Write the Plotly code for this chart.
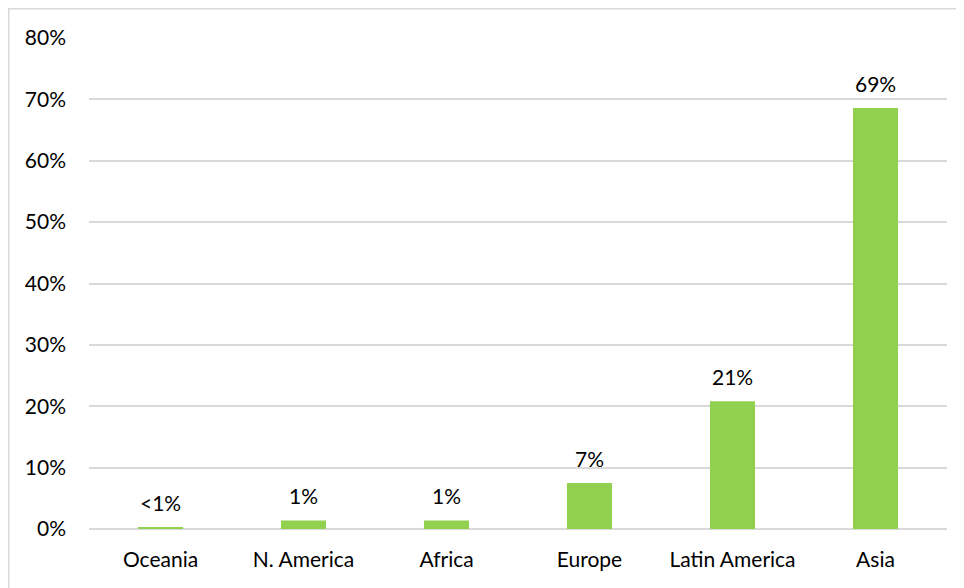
import plotly.graph_objects as go

categories = ["Oceania", "N. America", "Africa", "Europe", "Latin America", "Asia"]
values = [0.3, 1.4, 1.4, 7.5, 20.8, 68.6]
labels = ["<1%", "1%", "1%", "7%", "21%", "69%"]
tick_vals = [0, 10, 20, 30, 40, 50, 60, 70, 80]
tick_text = [f"{v}%" for v in tick_vals]

# page body has an 8px margin; figure sized to fit
W, H = 956, 580
ml, mr, mt, mb = 81, 17, 30, 59
pw, ph = W - ml - mr, H - mt - mb

FONT = "Lato, 'Open Sans', sans-serif"
FS = 21

fig = go.Figure(go.Bar(x=categories, y=values, marker=dict(color="#92D050", line=dict(width=0)),
                       hoverinfo="x+y"))

for c, v, t in zip(categories, values, labels):
    fig.add_annotation(x=c, y=v, text=t, showarrow=False, yanchor="bottom", yshift=10,
                       font=dict(size=FS, color="#000000", family=FONT))

def px2x(p):
    return (p - ml) / pw

def px2y(p):
    return (H - mb - p) / ph

# outer chart border (top and left visible, others off-page)
fig.add_shape(type="rect", xref="paper", yref="paper",
              x0=px2x(0.75), x1=px2x(W + 20), y0=px2y(0.75), y1=px2y(H + 20),
              line=dict(color="#D9D9D9", width=1.5), fillcolor="rgba(0,0,0,0)", layer="below")

fig.update_layout(
    width=W, height=H,
    margin=dict(l=ml, r=mr, t=mt, b=mb, pad=0),
    paper_bgcolor="white", plot_bgcolor="white",
    bargap=0.685,
    showlegend=False,
    font=dict(family=FONT, size=FS, color="#000000"),
    xaxis=dict(showgrid=False, showline=False, ticks="", tickfont=dict(size=FS),
               ticklabelstandoff=16),
    yaxis=dict(range=[0, 80], tickvals=tick_vals, ticktext=tick_text, showgrid=True,
               gridcolor="#D9D9D9", gridwidth=1.5, zeroline=True, zerolinecolor="#D9D9D9",
               zerolinewidth=1.5, showline=False, ticks="", tickfont=dict(size=FS),
               ticklabelstandoff=22),
)

fig.write_html("out.html")
